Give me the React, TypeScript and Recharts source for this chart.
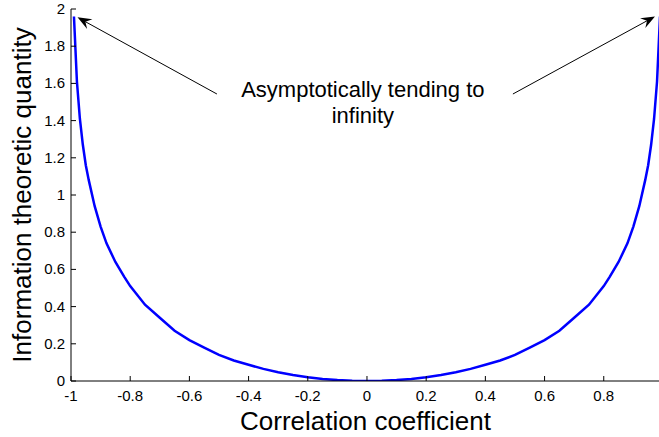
import React from 'react';
import { LineChart, Line, XAxis, YAxis, ReferenceLine, ReferenceDot } from 'recharts';

// Correlation coefficient (x) and information theoretic quantity (y)
const rho = [
  -0.99, -0.98, -0.97, -0.96, -0.95, -0.94, -0.92, -0.9, -0.88, -0.85, -0.82, -0.8,
  -0.75, -0.7, -0.65, -0.6, -0.55, -0.5, -0.45, -0.4, -0.35, -0.3, -0.25, -0.2,
  -0.15, -0.1, -0.05, 0,
  0.05, 0.1, 0.15, 0.2, 0.25, 0.3, 0.35, 0.4, 0.45, 0.5, 0.55, 0.6, 0.65, 0.7,
  0.75, 0.8, 0.82, 0.85, 0.88, 0.9, 0.92, 0.94, 0.95, 0.96, 0.97, 0.98, 0.99,
];
const info = [
  1.96, 1.61, 1.41, 1.27, 1.16, 1.08, 0.94, 0.83, 0.74, 0.64, 0.56, 0.51,
  0.41, 0.34, 0.27, 0.22, 0.18, 0.14, 0.11, 0.087, 0.065, 0.047, 0.032, 0.02,
  0.011, 0.005, 0.001, 0,
  0.001, 0.005, 0.011, 0.02, 0.032, 0.047, 0.065, 0.087, 0.11, 0.14, 0.18, 0.22, 0.27, 0.34,
  0.41, 0.51, 0.56, 0.64, 0.74, 0.83, 0.94, 1.08, 1.16, 1.27, 1.41, 1.61, 1.96,
];

const xTicks = [-1, -0.8, -0.6, -0.4, -0.2, 0, 0.2, 0.4, 0.6, 0.8];
const yTicks = [0, 0.2, 0.4, 0.6, 0.8, 1, 1.2, 1.4, 1.6, 1.8, 2];
const xDomain = [-1, 0.99];
const yDomain = [0, 2];

const xTitle = 'Correlation coefficient';
const yTitle = 'Information theoretic quantity';
const noteLines = ['Asymptotically tending to', 'infinity'];
const noteAnchor = { x: -0.014, y: 1.527 };
const arrowLeft = [{ x: -0.507, y: 1.543 }, { x: -0.978, y: 1.955 }];
const arrowRight = [{ x: 0.493, y: 1.543 }, { x: 0.973, y: 1.96 }];

const data = rho.map((r, i) => ({ rho: r, v: info[i] }));

const FONT = '"Liberation Sans", Arial, Helvetica, sans-serif';
const TICK = 5;

const BottomTick = (p: any) => (
  <g>
    <line x1={p.x} y1={p.y} x2={p.x} y2={p.y - TICK} stroke="#000" />
    <text x={p.x} y={p.y + 20} textAnchor="middle" fontSize={15} fontFamily={FONT} fill="#000">
      {String(p.payload.value)}
    </text>
  </g>
);
const TopTick = (p: any) => (
  <line x1={p.x} y1={p.y} x2={p.x} y2={p.y + TICK} stroke="#000" />
);
const LeftTick = (p: any) => (
  <g>
    <line x1={p.x} y1={p.y} x2={p.x + TICK} y2={p.y} stroke="#000" />
    <text x={p.x - 6} y={p.y + 5} textAnchor="end" fontSize={15} fontFamily={FONT} fill="#000">
      {String(p.payload.value)}
    </text>
  </g>
);
const RightTick = (p: any) => (
  <line x1={p.x} y1={p.y} x2={p.x - TICK} y2={p.y} stroke="#000" />
);

const ArrowShape = (p: any) => {
  const { x1, y1, x2, y2 } = p;
  const ang = Math.atan2(y2 - y1, x2 - x1);
  const ux = Math.cos(ang), uy = Math.sin(ang);
  const px = -uy, py = ux;
  const L = 14, W = 5.5, N = 9;
  const bx = x2 - ux * L, by = y2 - uy * L;
  const nx = x2 - ux * N, ny = y2 - uy * N;
  const pts = `${x2},${y2} ${bx + px * W},${by + py * W} ${nx},${ny} ${bx - px * W},${by - py * W}`;
  return (
    <g>
      <line x1={x1} y1={y1} x2={nx} y2={ny} stroke="#000" strokeWidth={1} />
      <polygon points={pts} fill="#000" />
    </g>
  );
};

const NoteShape = (p: any) => (
  <text x={p.cx} y={p.cy} textAnchor="middle" fontSize={22} fontFamily={FONT} fill="#000">
    {noteLines.map((t, i) => (
      <tspan key={i} x={p.cx} dy={i === 0 ? 0 : 26}>{t}</tspan>
    ))}
  </text>
);

const XTitle = (p: any) => {
  const vb = p.viewBox || { x: 71, y: 381, width: 589, height: 56 };
  return (
    <text x={vb.x + vb.width / 2} y={vb.y + 49} textAnchor="middle" fontSize={26} fontFamily={FONT} fill="#000">
      {xTitle}
    </text>
  );
};
const YTitle = (p: any) => {
  const vb = p.viewBox || { x: 0, y: 9, width: 71, height: 372 };
  const cx = vb.x + 31;
  const cy = vb.y + vb.height / 2;
  return (
    <text x={cx} y={cy} transform={`rotate(-90 ${cx} ${cy})`} textAnchor="middle" fontSize={26} fontFamily={FONT} fill="#000">
      {yTitle}
    </text>
  );
};

export default function App() {
  return (
    <div style={{ position: 'absolute', left: 0, top: 0, width: 659, height: 437, overflow: 'hidden', background: '#fff' }}>
      <style>{'body{margin:0;background:#fff;}'}</style>
      <LineChart width={662} height={437} data={data} margin={{ top: 9, right: 2, bottom: 0, left: 0 }}>
        <XAxis
          dataKey="rho"
          type="number"
          domain={xDomain}
          ticks={xTicks}
          allowDataOverflow
          height={56}
          tickSize={0}
          tickMargin={0}
          tickLine={false}
          axisLine={{ stroke: '#000' }}
          tick={<BottomTick />}
          interval={0}
          label={{ content: (p: any) => <XTitle {...p} /> }}
        />
        <XAxis
          xAxisId="top"
          orientation="top"
          dataKey="rho"
          type="number"
          domain={xDomain}
          ticks={xTicks}
          allowDataOverflow
          height={0}
          tickSize={0}
          tickMargin={0}
          tickLine={false}
          axisLine={{ stroke: '#000' }}
          tick={<TopTick />}
          interval={0}
        />
        <YAxis
          type="number"
          domain={yDomain}
          ticks={yTicks}
          allowDataOverflow
          width={71}
          tickSize={0}
          tickMargin={0}
          tickLine={false}
          axisLine={{ stroke: '#000' }}
          tick={<LeftTick />}
          interval={0}
          label={{ content: (p: any) => <YTitle {...p} /> }}
        />
        <YAxis
          yAxisId="right"
          orientation="right"
          type="number"
          domain={yDomain}
          ticks={yTicks}
          allowDataOverflow
          width={0}
          tickSize={0}
          tickMargin={0}
          tickLine={false}
          axisLine={{ stroke: '#000' }}
          tick={<RightTick />}
          interval={0}
        />
        <Line
          dataKey="v"
          type="linear"
          stroke="#0000ff"
          strokeWidth={2.5}
          dot={false}
          activeDot={false}
          isAnimationActive={false}
        />
        <ReferenceLine segment={arrowLeft} shape={ArrowShape} ifOverflow="visible" />
        <ReferenceLine segment={arrowRight} shape={ArrowShape} ifOverflow="visible" />
        <ReferenceDot x={noteAnchor.x} y={noteAnchor.y} r={0} shape={NoteShape} ifOverflow="visible" />
      </LineChart>
    </div>
  );
}
